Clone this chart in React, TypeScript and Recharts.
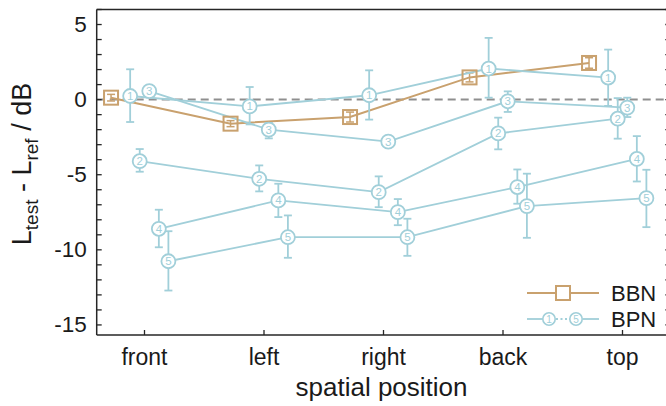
import React from 'react';
import { ComposedChart, Line, XAxis, YAxis, ErrorBar, ReferenceLine } from 'recharts';

const categories = ['front', 'left', 'right', 'back', 'top'];
const yLabelTicks = [-15, -10, -5, 0, 5];
const yAllTicks = [-15, -14, -13, -12, -11, -10, -9, -8, -7, -6, -5, -4, -3, -2, -1, 0, 1, 2, 3, 4, 5, 6];

// BBN (broadband noise)
const bbnValues = [0.13, -1.6, -1.16, 1.48, 2.44];
const bbnErrLow = [0.22, 0.2, 0.33, 0.3, 0.35];
const bbnErrHigh = [0.22, 0.2, 0.33, 0.3, 0.35];

// BPN 1..5 (bandpass noise)
const bpn1 = [0.24, -0.45, 0.29, 2.07, 1.47];
const bpn1Low = [1.73, 1.2, 1.62, 1.94, 1.89];
const bpn1High = [1.78, 1.29, 1.66, 2.04, 1.86];

const bpn2 = [-4.1, -5.27, -6.16, -2.25, -1.27];
const bpn2Low = [0.7, 0.84, 1.0, 1.06, 1.33];
const bpn2High = [0.81, 0.89, 1.05, 1.05, 1.37];

const bpn3 = [0.57, -2.0, -2.8, -0.11, -0.53];
const bpn3Low = [0.3, 0.58, 0.3, 0.71, 0.63];
const bpn3High = [0.3, 0.45, 0.3, 0.66, 0.66];

const bpn4 = [-8.6, -6.71, -7.49, -5.82, -3.95];
const bpn4Low = [1.23, 1.11, 0.87, 1.11, 1.5];
const bpn4High = [1.27, 1.11, 0.87, 1.17, 1.52];

const bpn5 = [-10.76, -9.16, -9.16, -7.09, -6.56];
const bpn5Low = [1.95, 1.37, 1.24, 2.11, 1.93];
const bpn5High = [2.0, 1.45, 1.23, 2.16, 1.89];

const BBN_COLOR = '#c9a16e';
const BPN_COLOR = '#a1cfd9';
const AXIS_COLOR = '#262626';
const FONT = '"Liberation Sans", Arial, Helvetica, sans-serif';

const BBN_SHIFT = -0.28;
const BPN_SHIFTS = [-0.12, -0.04, 0.04, 0.12, 0.2];

const toSeries = (vals: number[], low: number[], high: number[], shift: number) =>
  vals.map((v, i) => ({ x: i + shift, y: v, err: [low[i], high[i]] }));

const bbnData = toSeries(bbnValues, bbnErrLow, bbnErrHigh, BBN_SHIFT);
const bpnData = [
  toSeries(bpn1, bpn1Low, bpn1High, BPN_SHIFTS[0]),
  toSeries(bpn2, bpn2Low, bpn2High, BPN_SHIFTS[1]),
  toSeries(bpn3, bpn3Low, bpn3High, BPN_SHIFTS[2]),
  toSeries(bpn4, bpn4Low, bpn4High, BPN_SHIFTS[3]),
  toSeries(bpn5, bpn5Low, bpn5High, BPN_SHIFTS[4]),
];

const SquareDot = (props: any) => {
  const { cx, cy, index } = props;
  if (cx == null || cy == null) return <g key={index} />;
  return (
    <rect key={index} x={cx - 7} y={cy - 7} width={14} height={14} fill="none" stroke={BBN_COLOR} strokeWidth={2} />
  );
};

const makeNumberDot = (n: number) => (props: any) => {
  const { cx, cy, index } = props;
  if (cx == null || cy == null) return <g key={index} />;
  return (
    <g key={index}>
      <circle cx={cx} cy={cy} r={7} fill="#fff" stroke={BPN_COLOR} strokeWidth={1.8} />
      <text x={cx} y={cy + 4} textAnchor="middle" fontSize={11.5} fontFamily={FONT} fill={BPN_COLOR}>
        {n}
      </text>
    </g>
  );
};

const BottomTick = ({ x, y, payload }: any) => (
  <g>
    <line x1={x} x2={x} y1={y} y2={y - 5} stroke={AXIS_COLOR} strokeWidth={1.3} />
    <text x={x} y={y + 30} textAnchor="middle" fontSize={23} fontFamily={FONT} fill="#1a1a1a">
      {categories[payload.value]}
    </text>
  </g>
);

const TopTick = ({ x, y }: any) => (
  <line x1={x} x2={x} y1={y} y2={y + 5} stroke={AXIS_COLOR} strokeWidth={1.3} />
);

const LeftTick = ({ x, y, payload }: any) => (
  <g>
    <line x1={x} x2={x + 5} y1={y} y2={y} stroke={AXIS_COLOR} strokeWidth={1.3} />
    {yLabelTicks.includes(payload.value) && (
      <text x={x - 10} y={y + 7.5} textAnchor="end" fontSize={22.5} fontFamily={FONT} fill="#1a1a1a">
        {payload.value}
      </text>
    )}
  </g>
);

const RightTick = ({ x, y }: any) => (
  <line x1={x} x2={x - 5} y1={y} y2={y} stroke={AXIS_COLOR} strokeWidth={1.3} />
);

const YLabel = ({ viewBox }: any) => {
  const cx = viewBox.x + 31;
  const cy = 164;
  return (
    <text
      x={cx}
      y={cy}
      transform={`rotate(-90, ${cx}, ${cy})`}
      textAnchor="middle"
      fontSize={27}
      fontFamily={FONT}
      fill="#1a1a1a"
    >
      L<tspan dy={7} fontSize={19}>test</tspan>
      <tspan dy={-7}> - L</tspan>
      <tspan dy={7} fontSize={19}>ref</tspan>
      <tspan dy={-7}> / dB</tspan>
    </text>
  );
};

const XLabel = ({ viewBox }: any) => (
  <text
    x={viewBox.x + viewBox.width / 2 - 2}
    y={viewBox.y + 61}
    textAnchor="middle"
    fontSize={26}
    fontFamily={FONT}
    fill="#1a1a1a"
  >
    spatial position
  </text>
);

const LegendBox = () => (
  <svg width={160} height={60} style={{ position: 'absolute', left: 515, top: 276 }}>
    <line x1={12} x2={84} y1={17} y2={17} stroke={BBN_COLOR} strokeWidth={2} />
    <rect x={41} y={10} width={14} height={14} fill="#fff" stroke={BBN_COLOR} strokeWidth={2} />
    <text x={96} y={25} fontSize={22} fontFamily={FONT} fill="#1a1a1a">BBN</text>
    <line x1={12} x2={28} y1={43} y2={43} stroke={BPN_COLOR} strokeWidth={1.8} />
    <line x1={68} x2={84} y1={43} y2={43} stroke={BPN_COLOR} strokeWidth={1.8} />
    <line x1={41} x2={55} y1={43} y2={43} stroke={BPN_COLOR} strokeWidth={1.8} strokeDasharray="2 2.5" />
    {[{ cx: 34, n: 1 }, { cx: 61, n: 5 }].map((d) => (
      <g key={d.n}>
        <circle cx={d.cx} cy={43} r={6.2} fill="#fff" stroke={BPN_COLOR} strokeWidth={1.6} />
        <text x={d.cx} y={47} textAnchor="middle" fontSize={10} fontFamily={FONT} fill={BPN_COLOR}>{d.n}</text>
      </g>
    ))}
    <text x={96} y={51} fontSize={22} fontFamily={FONT} fill="#1a1a1a">BPN</text>
  </svg>
);

export default function App() {
  return (
    <div style={{ position: 'absolute', left: 0, top: 0, width: 666, height: 406, overflow: 'hidden', background: '#fff' }}>
      <ComposedChart width={672} height={406} margin={{ top: 8.5, right: 0, bottom: 0, left: 0 }}>
        <XAxis
          dataKey="x"
          type="number"
          domain={[-0.4, 4.4]}
          ticks={[0, 1, 2, 3, 4]}
          interval={0}
          allowDataOverflow
          height={71}
          tickSize={0}
          tickMargin={0}
          tick={<BottomTick />}
          axisLine={{ stroke: AXIS_COLOR, strokeWidth: 1.5 }}
          label={<XLabel />}
        />
        <XAxis
          xAxisId="top"
          orientation="top"
          type="number"
          domain={[-0.4, 4.4]}
          ticks={[0, 1, 2, 3, 4]}
          interval={0}
          allowDataOverflow
          height={1}
          tickSize={0}
          tickMargin={0}
          tick={<TopTick />}
          axisLine={{ stroke: AXIS_COLOR, strokeWidth: 1.5 }}
        />
        <YAxis
          type="number"
          domain={[-15.67, 6]}
          ticks={yAllTicks}
          interval={0}
          allowDataOverflow
          width={96.7}
          tickSize={0}
          tickMargin={0}
          tick={<LeftTick />}
          axisLine={{ stroke: AXIS_COLOR, strokeWidth: 1.5 }}
          label={<YLabel />}
        />
        <YAxis
          yAxisId="right"
          orientation="right"
          type="number"
          domain={[-15.67, 6]}
          ticks={yAllTicks}
          interval={0}
          allowDataOverflow
          width={1.7}
          tickSize={0}
          tickMargin={0}
          tick={<RightTick />}
          axisLine={{ stroke: AXIS_COLOR, strokeWidth: 1.5 }}
        />
        <ReferenceLine y={0} stroke="#8f8f8f" strokeWidth={2} strokeDasharray="8 5" />
        <Line
          data={bbnData}
          dataKey="y"
          stroke={BBN_COLOR}
          strokeWidth={2}
          dot={SquareDot}
          activeDot={false}
          isAnimationActive={false}
        >
          <ErrorBar dataKey="err" width={4} stroke={BBN_COLOR} strokeWidth={1.5} isAnimationActive={false} />
        </Line>
        {bpnData.map((d, k) => (
          <Line
            key={k}
            data={d}
            dataKey="y"
            stroke={BPN_COLOR}
            strokeWidth={1.8}
            dot={makeNumberDot(k + 1)}
            activeDot={false}
            isAnimationActive={false}
          >
            <ErrorBar dataKey="err" width={4} stroke={BPN_COLOR} strokeWidth={1.8} isAnimationActive={false} />
          </Line>
        ))}
      </ComposedChart>
      <LegendBox />
    </div>
  );
}
